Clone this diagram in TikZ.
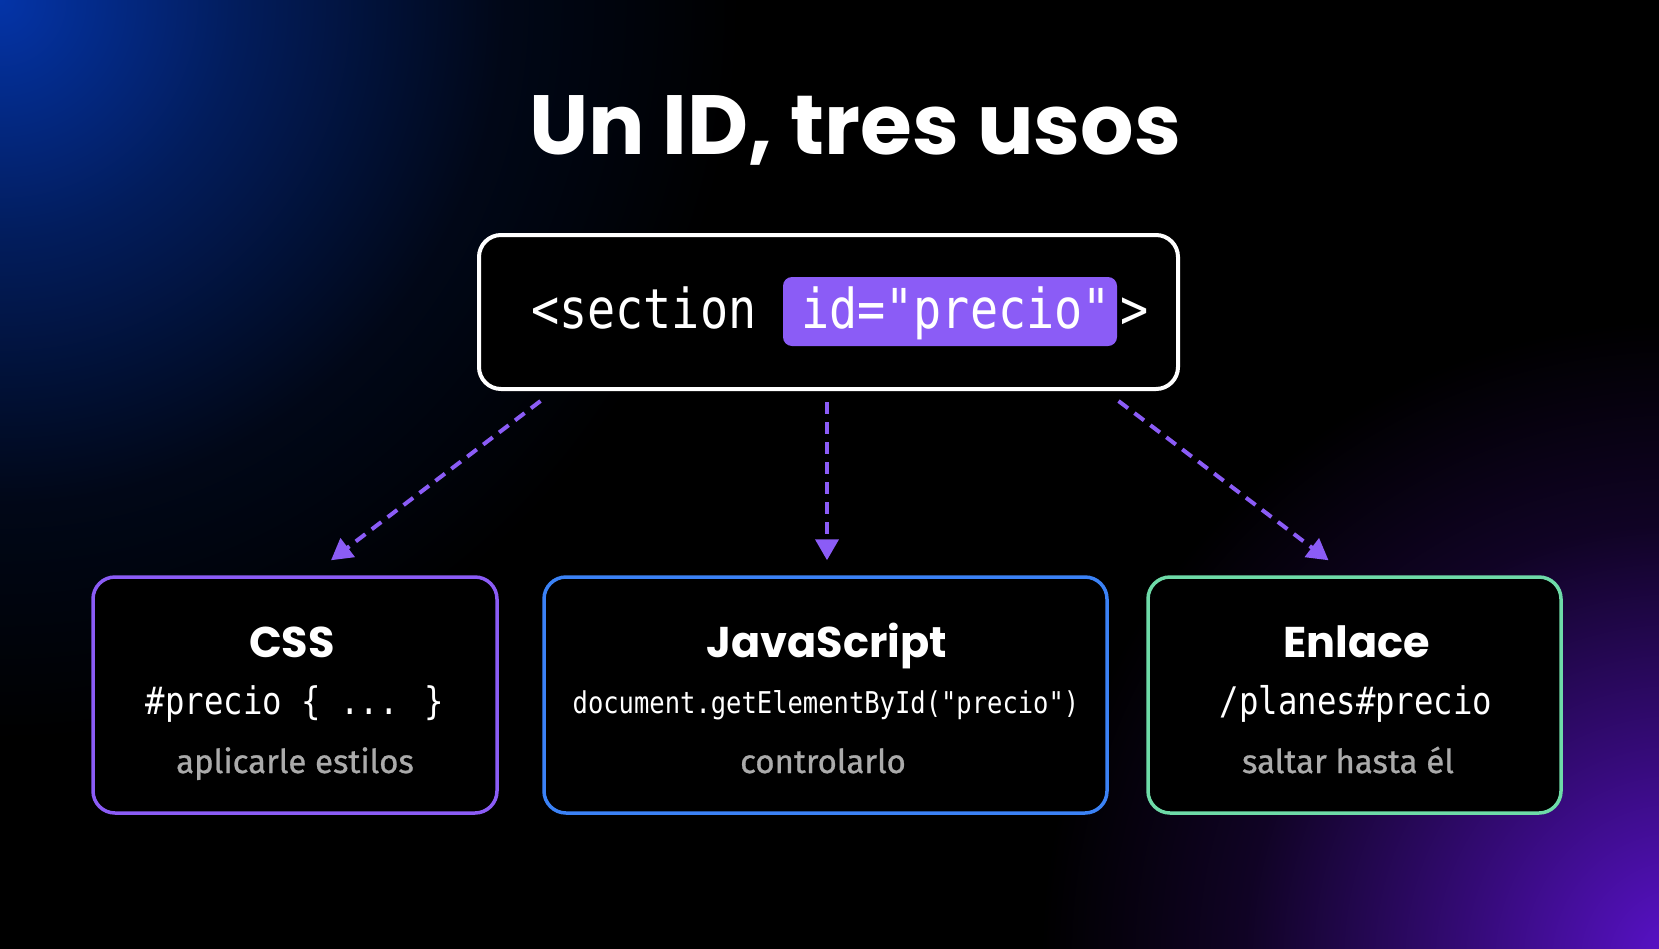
\documentclass[tikz,border=0pt]{standalone}
\usepackage{fontspec}
\usetikzlibrary{arrows.meta}
\newfontfamily\titlefont{Poppins}
\newfontfamily\codefont[FakeStretch=0.85]{DejaVu Sans Mono}
\newfontfamily\descfont[FakeBold=0.8]{Fira Sans}
\definecolor{accent}{HTML}{8B5CF6}
\definecolor{jsblue}{HTML}{3B82F6}
\definecolor{linkgreen}{HTML}{6EDBA8}
\definecolor{graytext}{HTML}{ABABAB}
\definecolor{glowblue}{HTML}{0434A8}
\definecolor{glowpurple}{HTML}{5A12CC}
\pgfdeclareradialshading{blueglow}{\pgfpointorigin}{color(0bp)=(glowblue); color(8bp)=(glowblue!55!black); color(17bp)=(glowblue!14!black); color(25bp)=(black); color(50bp)=(black)}
\pgfdeclareradialshading{purpleglow}{\pgfpointorigin}{color(0bp)=(glowpurple); color(8bp)=(glowpurple!60!black); color(17bp)=(glowpurple!18!black); color(25bp)=(black); color(50bp)=(black)}
\tikzset{
  card/.style={draw, rounded corners=22pt, line width=3.5pt, fill=black, inner sep=0pt},
  cardtitle/.style={anchor=base, text=white, font=\titlefont\bfseries\fontsize{43}{48}\selectfont},
  cardcode/.style={anchor=base, text=white, font=\codefont\fontsize{38}{42}\selectfont},
  carddesc/.style={anchor=base, text=graytext, font=\descfont\fontsize{33}{37}\selectfont},
  codetext/.style={anchor=base west, inner sep=0pt, text=white, font=\codefont\fontsize{55}{60}\selectfont},
  arr/.style={accent, line width=4pt, dash pattern=on 12pt off 8pt, -{Triangle[length=21pt,width=23pt]}},
}
\begin{document}
\begin{tikzpicture}[x=1pt,y=-1pt]
\useasboundingbox (0,0) rectangle (1659,948);
\begin{scope}
\clip (-3,-3) rectangle (1662,951);
\fill[black] (-3,-3) rectangle (1662,951);
\shade[shading=blueglow] (0,0) circle (740);
\shade[shading=purpleglow] (1680,960) circle (640);
\end{scope}
% title
\node[anchor=base, text=white, font=\titlefont\bfseries\fontsize{84}{90}\selectfont] (title) at (855,154) {Un ID, tres usos};
% top box
\node[card, draw=white, line width=4pt, minimum width=699pt, minimum height=154pt] (top) at (828.5,312) {};
\node[fill=accent, rounded corners=9pt, minimum width=334pt, minimum height=69pt, inner sep=0pt] (hl) at (950,311.5) {};
\node[codetext] (c1) at (531,328) {<section};
\node[codetext] (c2) at (801,328) {id="precio"};
\node[codetext] (c3) at (1120,328) {>};
% cards
\node[card, draw=accent, minimum width=404pt, minimum height=236pt] (css) at (295,695) {};
\node[card, draw=jsblue, minimum width=563pt, minimum height=236pt] (js) at (825.5,695) {};
\node[card, draw=linkgreen, minimum width=413pt, minimum height=236pt] (link) at (1354.5,695) {};
\node[cardtitle] (cssT) at (292,657) {CSS};
\node[cardcode] (cssC) at (295,714) {\#precio \{ ... \}};
\node[carddesc] (cssD) at (295,773) {aplicarle estilos};
\node[cardtitle] (jsT) at (827,657) {JavaScript};
\node[cardcode, font=\codefont\fontsize{30}{34}\selectfont] (jsC) at (826,713) {document.getElementById("precio")};
\node[carddesc] (jsD) at (823,773) {controlarlo};
\node[cardtitle] (linkT) at (1357,657) {Enlace};
\node[cardcode] (linkC) at (1356,714) {/planes\#precio};
\node[carddesc] (linkD) at (1348,773) {saltar hasta él};
% arrows
\draw[arr] ([xshift=-288pt,yshift=-10pt]top.south) -- ([xshift=36pt,yshift=15pt]css.north);
\draw[arr] ([xshift=-1.5pt,yshift=-11pt]top.south) -- ([xshift=1.5pt,yshift=15pt]js.north);
\draw[arr] ([xshift=290pt,yshift=-10pt]top.south) -- ([xshift=-26pt,yshift=15pt]link.north);
\end{tikzpicture}
\end{document}
